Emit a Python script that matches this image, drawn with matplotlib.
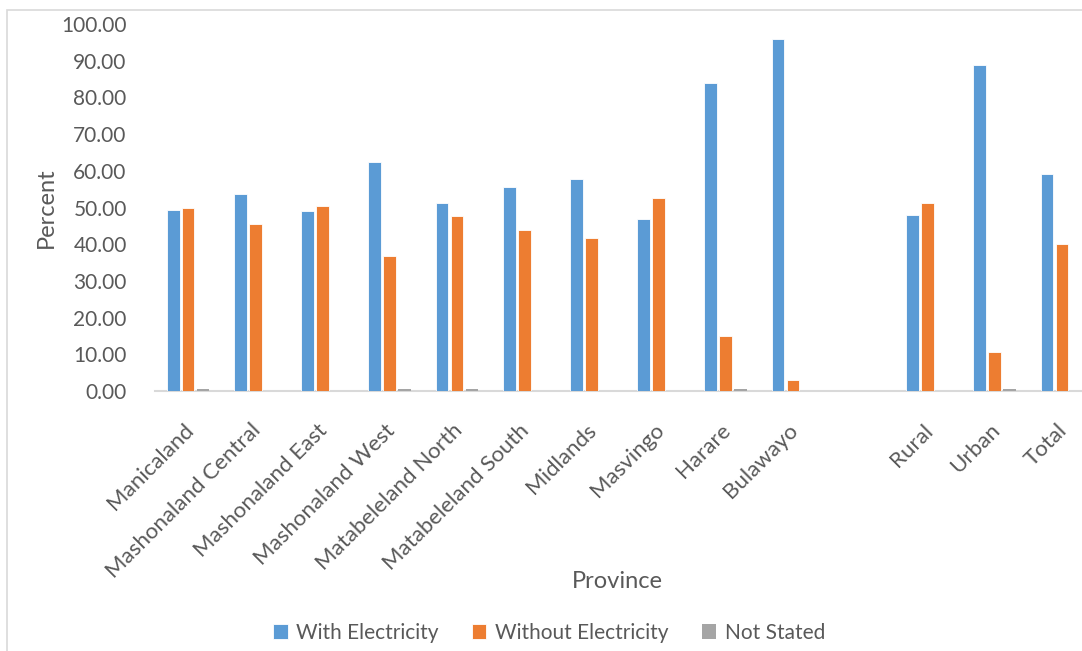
import numpy as np
import matplotlib
matplotlib.use("Agg")
import matplotlib.pyplot as plt
import matplotlib.transforms as mtransforms
from matplotlib.patches import Rectangle

plt.rcParams['font.family'] = ['Lato', 'DejaVu Sans']

# households by province (percent)
provinces = ["Manicaland", "Mashonaland Central", "Mashonaland East", "Mashonaland West",
             "Matabeleland North", "Matabeleland South", "Midlands", "Masvingo",
             "Harare", "Bulawayo", "", "Rural", "Urban", "Total"]
with_elec = [49.2, 53.6, 49.1, 62.3, 51.2, 55.7, 57.8, 47.0, 83.9, 96.0, 0, 48.0, 88.7, 59.1]
without_elec = [50.0, 45.6, 50.4, 36.9, 47.7, 43.9, 41.7, 52.6, 15.0, 3.1, 0, 51.3, 10.5, 40.1]
not_stated = [0.6, 0.0, 0.0, 0.6, 0.6, 0.0, 0.0, 0.0, 0.6, 0.0, 0, 0.0, 0.6, 0.0]

blue = '#5B9BD5'
orange = '#ED7D31'
grey = '#A5A5A5'
txt = '#595959'

fig = plt.figure(figsize=(10.82, 6.51), dpi=100)
ax = fig.add_axes([154.5 / 1082, 260 / 651, 941 / 1082, 367 / 651])

x = np.arange(len(provinces))
w = 0.19
step = 0.223
ax.bar(x - step, with_elec, w, color=blue, edgecolor='white', linewidth=0.6,
       label='With Electricity', zorder=3)
ax.bar(x, without_elec, w, color=orange, edgecolor='white', linewidth=0.6,
       label='Without Electricity', zorder=3)
ax.bar(x + step, not_stated, w, color=grey, edgecolor='none', label='Not Stated', zorder=3)

ax.set_xlim(-0.5, len(provinces) - 0.5)
ax.set_ylim(0, 100)
ax.set_yticks(np.arange(0, 101, 10))
ax.set_yticklabels([f"{v:.2f}" for v in np.arange(0, 101, 10)], fontsize=15, color=txt)
ax.set_xticks(x)
ax.set_xticklabels(provinces, rotation=45, ha='right', rotation_mode='anchor',
                   fontsize=16, color=txt)
ax.tick_params(axis='both', length=0)
ax.tick_params(axis='y', pad=20)
ax.tick_params(axis='x', pad=21)

# nudge the slanted labels a little to the left
shift = mtransforms.ScaledTranslation(-5 / 100, 0, fig.dpi_scale_trans)
for lbl in ax.get_xticklabels():
    lbl.set_transform(lbl.get_transform() + shift)

for s in ['top', 'right', 'left']:
    ax.spines[s].set_visible(False)
ax.spines['bottom'].set_color('#D9D9D9')
ax.spines['bottom'].set_linewidth(1.5)
ax.spines['bottom'].set_zorder(2)

ax.set_ylabel('Percent', fontsize=17, color=txt, labelpad=3)
fig.text(617 / 1082, 1 - 582 / 651, 'Province', fontsize=17, color=txt, ha='center', va='center')

fig.legend(loc='center', bbox_to_anchor=(549 / 1082, 1 - 633 / 651), ncol=3, frameon=False,
           fontsize=15, labelcolor=txt, handlelength=0.7, handleheight=0.7,
           handletextpad=0.4, columnspacing=1.6)

# outer chart border
fig.patches.append(Rectangle((7 / 1082, -0.05), 1.2, (651 - 10) / 651 + 0.05,
                             transform=fig.transFigure, fill=False,
                             edgecolor='#D9D9D9', linewidth=1.2))

fig.savefig('out.png', dpi=100, facecolor='white')
